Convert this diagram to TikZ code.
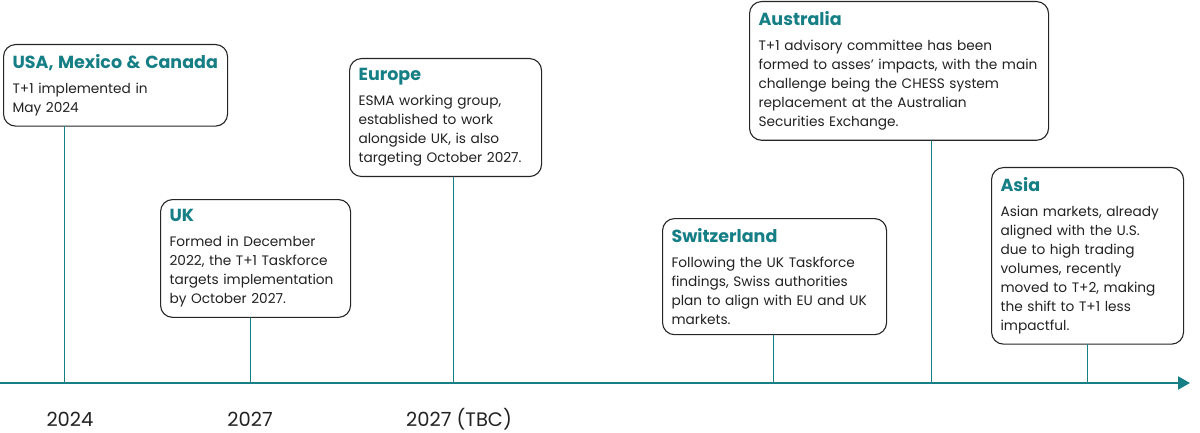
\documentclass[tikz,border=0pt]{standalone}
\usepackage{fontspec}
\setmainfont{Poppins}
\usetikzlibrary{arrows.meta}
\definecolor{teal}{HTML}{167F86}
\definecolor{ink}{HTML}{222222}
\tikzset{
  card/.style={draw=black!85, line width=1.1pt, rounded corners=12pt, fill=white,
    anchor=north west, align=left, inner xsep=9pt, inner ysep=10pt,
    font=\fontsize{13.7}{19}\selectfont, text=ink},
  stem/.style={draw=teal, line width=1pt},
  axis/.style={draw=teal, line width=2.2pt, -{Triangle[length=12pt,width=13pt]}},
  year/.style={font=\fontsize{19.5}{22}\selectfont, text=ink, anchor=base}
}
\newcommand{\cardtitle}[1]{{\fontsize{17.5}{20}\selectfont\bfseries\color{teal}#1}\\[6pt]}
\begin{document}
\begin{tikzpicture}[x=1pt,y=-1pt,line cap=round,line join=round]
  \useasboundingbox (0,0) rectangle (1200,433);
  % points on the time axis
  \coordinate (start) at (0,383);
  \coordinate (end) at (1190,383);
  \coordinate (t1) at (64,383);
  \coordinate (t2) at (250,383);
  \coordinate (t3) at (453,383);
  \coordinate (t4) at (773,383);
  \coordinate (t5) at (931,383);
  \coordinate (t6) at (1087,383);
  % cards
  \node[card, text width=206pt] (usa) at (3,44) {\cardtitle{USA, Mexico \& Canada}T+1 implemented in\\May 2024};
  \node[card, text width=172pt] (uk) at (160,199) {\cardtitle{UK}Formed in December\\2022, the T+1 Taskforce\\targets implementation\\by October 2027.};
  \node[card, text width=174pt] (eu) at (349,58) {\cardtitle{Europe}ESMA working group,\\established to work\\alongside UK, is also\\targeting October 2027.};
  \node[card, text width=281pt] (aus) at (749,1) {\cardtitle{Australia}T+1 advisory committee has been\\formed to asses{\char"27} impacts, with the main\\challenge being the CHESS system\\replacement at the Australian\\Securities Exchange.};
  \node[card, text width=206pt] (swiss) at (662,218) {\cardtitle{Switzerland}Following the UK Taskforce\\findings, Swiss authorities\\plan to align with EU and UK\\markets.};
  \node[card, text width=174pt] (asia) at (991,167) {\cardtitle{Asia}Asian markets, already\\aligned with the U.S.\\due to high trading\\volumes, recently\\moved to T+2, making\\the shift to T+1 less\\impactful.};
  % stems
  \draw[stem] (usa.south -| t1) -- (t1);
  \draw[stem] (uk.south -| t2) -- (t2);
  \draw[stem] (eu.south -| t3) -- (t3);
  \draw[stem] (swiss.south -| t4) -- (t4);
  \draw[stem] (aus.south -| t5) -- (t5);
  \draw[stem] (asia.south -| t6) -- (t6);
  % axis
  \draw[axis] (start) -- (end);
  % years
  \node[year] (y1) at (70,426) {2024};
  \node[year] (y2) at (250,426) {2027};
  \node[year] (y3) at (459,426) {2027 (TBC)};
\end{tikzpicture}
\end{document}
